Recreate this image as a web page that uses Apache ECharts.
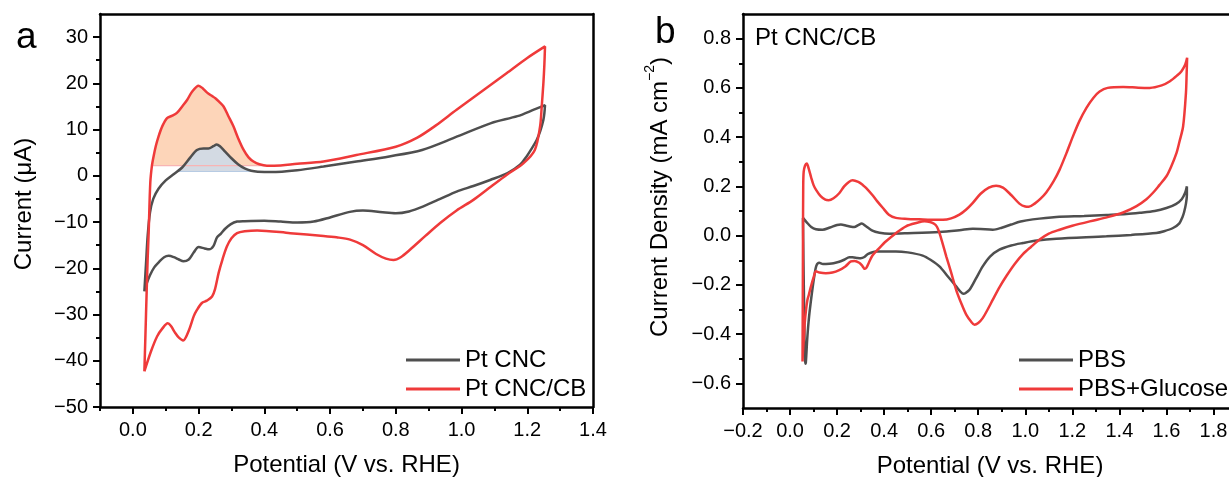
<!DOCTYPE html>
<html>
<head>
<meta charset="utf-8">
<script src="https://cdn.jsdelivr.net/npm/echarts@6/dist/echarts.min.js"></script>
<style>
html,body{margin:0;padding:0;background:#fff;}
#c{width:1229px;height:477px;}
</style>
</head>
<body>
<div id="c"></div>
<script>
// ---------- Panel a data (Potential V vs RHE, Current µA) ----------
const ptCNC = [
 [0.035,-25.0],[0.040,-19.0],[0.045,-13.0],[0.052,-8.0],[0.062,-5.0],[0.078,-2.8],[0.100,-1.0],[0.125,0.4],
 [0.150,1.8],[0.175,4.0],[0.195,5.6],[0.215,5.9],[0.230,5.9],[0.245,6.4],[0.255,6.8],[0.265,6.4],[0.280,5.3],
 [0.300,3.8],[0.320,2.5],[0.340,1.6],[0.360,1.1],[0.380,0.9],[0.420,0.8],[0.500,1.2],[0.580,2.0],[0.680,3.1],
 [0.780,4.2],[0.880,5.6],[0.980,8.3],[1.090,11.4],[1.170,12.9],[1.220,14.3],[1.254,15.3],
 [1.252,13.5],[1.249,12.1],[1.240,9.8],[1.229,7.8],[1.210,5.5],[1.198,4.2],[1.178,2.4],[1.140,0.6],[1.087,-0.9],
 [1.036,-2.2],[0.985,-3.4],[0.935,-5.0],[0.884,-6.6],[0.840,-7.7],[0.800,-8.1],[0.760,-7.9],[0.700,-7.5],
 [0.660,-7.8],[0.600,-9.0],[0.550,-9.9],[0.500,-10.1],[0.450,-9.9],[0.400,-9.7],[0.340,-9.8],[0.317,-9.9],
 [0.297,-10.5],[0.280,-11.5],[0.268,-12.5],[0.256,-13.3],[0.245,-15.2],[0.232,-15.9],[0.218,-15.7],
 [0.200,-15.4],[0.185,-16.6],[0.170,-18.1],[0.154,-18.5],[0.140,-18.1],[0.125,-17.6],[0.109,-17.3],
 [0.095,-17.6],[0.080,-18.6],[0.065,-19.8],[0.052,-21.5],[0.042,-23.3],[0.035,-25.0]
];
const ptCNCCB = [
 [0.035,-42.3],[0.038,-35.0],[0.042,-25.0],[0.045,-18.0],[0.048,-12.4],[0.053,-1.5],[0.058,2.2],[0.063,4.2],
 [0.070,6.5],[0.078,8.5],[0.090,10.8],[0.104,12.5],[0.120,13.0],[0.134,13.6],[0.150,15.0],[0.165,16.4],
 [0.180,18.2],[0.200,19.5],[0.213,18.9],[0.226,18.0],[0.240,17.3],[0.251,16.8],[0.263,16.0],[0.276,15.0],
 [0.290,13.0],[0.306,10.7],[0.320,8.2],[0.337,5.6],[0.352,4.0],[0.367,3.1],[0.385,2.5],[0.408,2.2],
 [0.430,2.2],[0.500,2.6],[0.580,3.1],[0.680,4.5],[0.800,6.3],[0.864,8.2],[0.920,10.8],[0.985,14.3],
 [1.060,18.2],[1.137,22.2],[1.200,25.5],[1.254,28.0],
 [1.252,24.0],[1.249,20.0],[1.244,15.0],[1.239,10.7],[1.223,5.6],[1.188,2.7],[1.137,0.2],[1.090,-2.3],
 [1.036,-5.2],[0.985,-7.5],[0.935,-10.2],[0.890,-13.0],[0.843,-16.0],[0.815,-17.6],[0.793,-18.2],
 [0.770,-17.9],[0.740,-16.9],[0.700,-15.0],[0.661,-13.8],[0.620,-13.3],[0.580,-13.0],[0.479,-12.4],
 [0.378,-11.8],[0.340,-12.0],[0.317,-12.4],[0.300,-13.5],[0.286,-15.3],[0.273,-18.0],[0.261,-21.0],
 [0.250,-24.5],[0.241,-26.1],[0.225,-27.0],[0.210,-27.5],[0.195,-29.0],[0.185,-30.4],[0.170,-33.5],
 [0.153,-35.6],[0.140,-35.0],[0.129,-34.0],[0.116,-32.5],[0.106,-31.9],[0.090,-33.0],[0.074,-34.7],
 [0.055,-38.0],[0.035,-42.3]
];
// shaded Hupd peak regions (upper boundary) and their baselines
const peakCB = [
 [0.058,2.2],[0.063,4.2],[0.070,6.5],[0.078,8.5],[0.090,10.8],[0.104,12.5],[0.120,13.0],[0.134,13.6],
 [0.150,15.0],[0.165,16.4],[0.180,18.2],[0.200,19.5],[0.213,18.9],[0.226,18.0],[0.240,17.3],[0.251,16.8],
 [0.263,16.0],[0.276,15.0],[0.290,13.0],[0.306,10.7],[0.320,8.2],[0.337,5.6],[0.352,4.0],[0.367,3.1],
 [0.385,2.5],[0.408,2.2]
];
const peakCBBase = 2.2;
const peakCNC = [
 [0.133,0.93],[0.150,1.8],[0.175,4.0],[0.195,5.6],[0.215,5.9],[0.230,5.9],[0.245,6.4],[0.255,6.8],
 [0.265,6.4],[0.280,5.3],[0.300,3.8],[0.320,2.5],[0.340,1.6],[0.360,1.1],[0.380,0.93]
];
const peakCNCBase = 0.93;

// ---------- Panel b data (Potential V vs RHE, Current density mA cm^-2) ----------
const pbs = [
 [0.055,0.072],[0.070,0.055],[0.090,0.035],[0.110,0.026],[0.138,0.024],[0.170,0.033],[0.200,0.043],
 [0.216,0.045],[0.240,0.040],[0.260,0.036],[0.273,0.035],[0.290,0.043],[0.305,0.049],[0.320,0.040],
 [0.350,0.020],[0.380,0.012],[0.422,0.008],[0.500,0.010],[0.635,0.015],[0.720,0.022],[0.777,0.028],
 [0.810,0.027],[0.862,0.024],[0.900,0.032],[0.940,0.045],[0.980,0.057],[1.032,0.066],[1.132,0.076],
 [1.250,0.080],[1.345,0.084],[1.430,0.088],[1.487,0.093],[1.550,0.100],[1.600,0.112],[1.640,0.128],
 [1.665,0.148],[1.680,0.175],[1.687,0.200],
 [1.687,0.165],[1.683,0.130],[1.675,0.095],[1.668,0.075],[1.655,0.050],[1.628,0.031],[1.590,0.018],
 [1.557,0.011],[1.450,0.003],[1.345,-0.003],[1.132,-0.013],[1.050,-0.020],[0.990,-0.030],[0.940,-0.040],
 [0.890,-0.057],[0.850,-0.085],[0.819,-0.125],[0.790,-0.175],[0.763,-0.220],[0.745,-0.234],[0.737,-0.236],
 [0.725,-0.228],[0.706,-0.206],[0.670,-0.165],[0.635,-0.125],[0.600,-0.100],[0.564,-0.081],[0.500,-0.068],
 [0.450,-0.064],[0.365,-0.064],[0.330,-0.075],[0.316,-0.087],[0.300,-0.092],[0.287,-0.091],[0.265,-0.088],
 [0.252,-0.088],[0.230,-0.098],[0.209,-0.106],[0.185,-0.112],[0.167,-0.114],[0.140,-0.115],[0.124,-0.110],
 [0.112,-0.122],[0.103,-0.165],[0.092,-0.240],[0.081,-0.328],[0.073,-0.420],[0.067,-0.517],[0.064,-0.520],
 [0.060,-0.300],[0.057,-0.100],[0.055,0.072]
];
const pbsGlucose = [
 [0.053,-0.511],[0.054,-0.300],[0.055,0.000],[0.056,0.200],[0.058,0.260],[0.064,0.285],[0.071,0.293],
 [0.080,0.270],[0.090,0.235],[0.100,0.205],[0.110,0.187],[0.130,0.160],[0.150,0.146],[0.164,0.144],
 [0.185,0.152],[0.209,0.172],[0.230,0.200],[0.250,0.218],[0.266,0.225],[0.290,0.218],[0.310,0.205],
 [0.323,0.194],[0.350,0.165],[0.370,0.140],[0.394,0.113],[0.420,0.085],[0.450,0.072],[0.500,0.068],
 [0.550,0.066],[0.600,0.064],[0.650,0.064],[0.685,0.070],[0.720,0.085],[0.749,0.106],[0.777,0.133],
 [0.810,0.170],[0.845,0.195],[0.876,0.203],[0.905,0.195],[0.940,0.165],[0.975,0.130],[1.000,0.118],
 [1.015,0.117],[1.040,0.130],[1.065,0.150],[1.089,0.175],[1.120,0.220],[1.146,0.268],[1.175,0.335],
 [1.203,0.404],[1.230,0.465],[1.260,0.519],[1.290,0.560],[1.316,0.585],[1.350,0.600],[1.416,0.604],
 [1.480,0.601],[1.529,0.600],[1.580,0.610],[1.615,0.627],[1.645,0.650],[1.664,0.668],[1.680,0.695],
 [1.688,0.722],
 [1.686,0.660],[1.683,0.580],[1.671,0.444],[1.655,0.380],[1.643,0.336],[1.620,0.280],[1.600,0.241],
 [1.570,0.205],[1.543,0.174],[1.515,0.148],[1.473,0.120],[1.416,0.094],[1.350,0.075],[1.274,0.058],
 [1.200,0.040],[1.146,0.024],[1.100,0.008],[1.061,-0.016],[1.025,-0.045],[0.990,-0.075],[0.955,-0.115],
 [0.919,-0.165],[0.890,-0.210],[0.862,-0.260],[0.840,-0.300],[0.819,-0.335],[0.800,-0.355],[0.784,-0.362],
 [0.770,-0.350],[0.749,-0.321],[0.730,-0.280],[0.706,-0.220],[0.685,-0.150],[0.664,-0.084],[0.645,-0.020],
 [0.635,0.011],[0.625,0.035],[0.614,0.047],[0.595,0.055],[0.571,0.058],[0.540,0.052],[0.493,0.038],
 [0.450,0.010],[0.408,-0.023],[0.375,-0.055],[0.351,-0.080],[0.335,-0.110],[0.325,-0.130],[0.318,-0.135],
 [0.305,-0.120],[0.294,-0.110],[0.275,-0.103],[0.259,-0.105],[0.235,-0.125],[0.209,-0.140],[0.180,-0.150],
 [0.152,-0.153],[0.125,-0.150],[0.110,-0.145],[0.100,-0.170],[0.089,-0.206],[0.080,-0.240],[0.074,-0.260],
 [0.068,-0.300],[0.062,-0.360],[0.060,-0.396],[0.055,-0.470],[0.053,-0.511]
];

// ---------- Tick values ----------
const aXTicks = [0,0.2,0.4,0.6,0.8,1.0,1.2,1.4];
const aXMinor = [-0.1,0.1,0.3,0.5,0.7,0.9,1.1,1.3];
const aYTicks = [-50,-40,-30,-20,-10,0,10,20,30];
const aYMinor = [-45,-35,-25,-15,-5,5,15,25];
const bXTicks = [-0.2,0,0.2,0.4,0.6,0.8,1.0,1.2,1.4,1.6,1.8];
const bXMinor = [-0.1,0.1,0.3,0.5,0.7,0.9,1.1,1.3,1.5,1.7];
const bYTicks = [-0.6,-0.4,-0.2,0,0.2,0.4,0.6,0.8];
const bYMinor = [-0.5,-0.3,-0.1,0.1,0.3,0.5,0.7];

const FONT = '"Liberation Sans", Arial, Helvetica, sans-serif';
const GREY = '#4f4f4f';
const RED = '#ef3a3a';
const minus = s => s.replace('-', '\u2212');
const fmt1 = v => minus((Math.round(v*10)/10).toFixed(1));
const fmt0 = v => minus(String(Math.round(v)));

function mainAxis(gridIndex, pos, min, max, ticks, fmt, name, nameGap, extra, labelMargin) {
  return Object.assign({
    type: 'value', gridIndex, position: pos, min, max,
    axisLine: {show: true, onZero: false, lineStyle: {color: '#000', width: 2.5}},
    axisTick: {show: true, inside: false, length: 7, customValues: ticks, lineStyle: {color: '#000', width: 2}},
    axisLabel: {show: true, customValues: ticks, formatter: fmt, margin: labelMargin, color: '#000', fontSize: 20, fontFamily: FONT},
    splitLine: {show: false},
    name, nameLocation: 'middle', nameGap,
    nameTextStyle: {color: '#000', fontSize: 24, fontFamily: FONT}
  }, extra || {});
}
function minorAxis(gridIndex, pos, min, max, ticks) {
  return {
    type: 'value', gridIndex, position: pos, min, max,
    axisLine: {show: false, onZero: false},
    axisTick: {show: true, inside: false, length: 4, customValues: ticks, lineStyle: {color: '#000', width: 2}},
    axisLabel: {show: false}, splitLine: {show: false}
  };
}
function frameAxis(gridIndex, pos, min, max) {
  return {
    type: 'value', gridIndex, position: pos, min, max,
    axisLine: {show: true, onZero: false, lineStyle: {color: '#000', width: 2.5}},
    axisTick: {show: false}, axisLabel: {show: false}, splitLine: {show: false}
  };
}

const chart = echarts.init(document.getElementById('c'), null, {renderer: 'canvas'});

const lineSeries = (name, data, color, xi, yi) => ({
  name, type: 'line', data, xAxisIndex: xi, yAxisIndex: yi,
  showSymbol: false, symbol: 'none', smooth: 0.3,
  lineStyle: {color, width: 2.5}, itemStyle: {color}, z: 5, silent: true
});
const fillSeries = (data, base, fill, edge) => ({
  type: 'line', data, xAxisIndex: 0, yAxisIndex: 0, showSymbol: false, symbol: 'none', smooth: 0.3,
  lineStyle: {width: 0, color: edge}, areaStyle: {color: fill, opacity: 1, origin: base}, z: 2, silent: true
});
const baseSeries = (data, base, color) => ({
  type: 'line', data: [[data[0][0], base], [data[data.length-1][0], base]],
  xAxisIndex: 0, yAxisIndex: 0, showSymbol: false, symbol: 'none',
  lineStyle: {color, width: 1.2}, z: 3, silent: true
});
const legendCfg = (names, left) => ({
  data: names, orient: 'vertical', left, top: 343, icon: 'rect', itemWidth: 54, itemHeight: 3,
  itemGap: 5, textStyle: {fontSize: 24, fontFamily: FONT, color: '#000'}, selectedMode: false
});

chart.setOption({
  animation: false,
  backgroundColor: '#fff',
  grid: [
    {left: 100, top: 14, width: 493, height: 393, containLabel: false, outerBoundsMode: 'none'},
    {left: 743, top: 14, width: 494, height: 394, containLabel: false, outerBoundsMode: 'none'}
  ],
  xAxis: [
    mainAxis(0, 'bottom', -0.1, 1.4, aXTicks, fmt1, 'Potential (V vs. RHE)', 46, null, 13),
    minorAxis(0, 'bottom', -0.1, 1.4, aXMinor),
    frameAxis(0, 'top', -0.1, 1.4),
    mainAxis(1, 'bottom', -0.2, 1.9, bXTicks, fmt1, 'Potential (V vs. RHE)', 46, null, 13),
    minorAxis(1, 'bottom', -0.2, 1.9, bXMinor),
    frameAxis(1, 'top', -0.2, 1.9)
  ],
  yAxis: [
    mainAxis(0, 'left', -50, 35, aYTicks, fmt0, 'Current (\u03bcA)', 64,
      {nameTextStyle: {color: '#000', fontSize: 24, fontFamily: FONT, padding: [0, 0, 0, 13]}}, 12),
    minorAxis(0, 'left', -50, 35, aYMinor),
    frameAxis(0, 'right', -50, 35),
    mainAxis(1, 'left', -0.7, 0.9, bYTicks, fmt1, '{n|Current Density (mA cm}{s|\u22122}{n|)}', 66,
      {nameTextStyle: {color: '#000', fontSize: 24, fontFamily: FONT, padding: [0, 0, 0, 28],
        rich: {n: {fontSize: 24, fontFamily: FONT, color: '#000', lineHeight: 34},
               s: {fontSize: 14, fontFamily: FONT, color: '#000', verticalAlign: 'top', lineHeight: 12}}}}, 12),
    minorAxis(1, 'left', -0.7, 0.9, bYMinor),
    frameAxis(1, 'right', -0.7, 0.9)
  ],
  legend: [
    legendCfg(['Pt CNC', 'Pt CNC/CB'], 401),
    legendCfg(['PBS', 'PBS+Glucose'], 1014)
  ],
  graphic: [
    {type: 'text', left: 16, top: 19, style: {text: 'a', fontSize: 37, fontFamily: FONT, fill: '#000'}},
    {type: 'text', left: 655, top: 14, style: {text: 'b', fontSize: 37, fontFamily: FONT, fill: '#000'}},
    {type: 'text', left: 755, top: 26, style: {text: 'Pt CNC/CB', fontSize: 24, fontFamily: FONT, fill: '#000'}}
  ],
  series: [
    fillSeries(peakCB, peakCBBase, '#fdd5b9', '#f6b0a0'),
    baseSeries(peakCB, peakCBBase, '#f8b4b4'),
    fillSeries(peakCNC, peakCNCBase, '#d3dae3', '#a9bfd8'),
    baseSeries(peakCNC, peakCNCBase, '#b7cbe3'),
    lineSeries('Pt CNC', ptCNC, GREY, 0, 0),
    lineSeries('Pt CNC/CB', ptCNCCB, RED, 0, 0),
    lineSeries('PBS', pbs, GREY, 3, 3),
    lineSeries('PBS+Glucose', pbsGlucose, RED, 3, 3)
  ]
});
</script>
</body>
</html>
